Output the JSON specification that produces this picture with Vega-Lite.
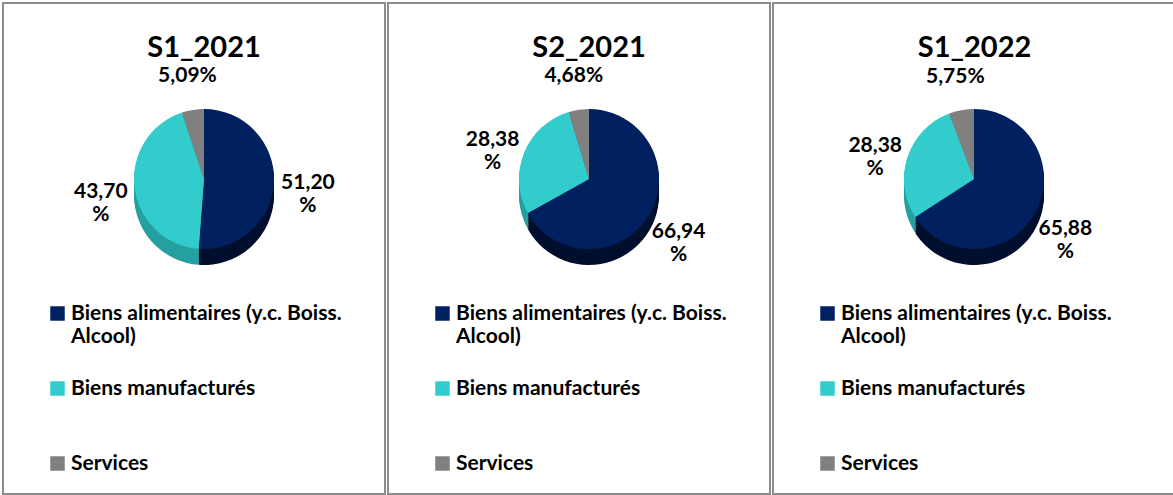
{
  "$schema": "https://vega.github.io/schema/vega-lite/v6.json",
  "padding": {"left": 2, "top": 2, "right": 0, "bottom": 0},
  "background": "white",
  "spacing": 1,
  "datasets": {
    "parts": [
      {"periode": "S1_2021", "categorie": "Biens alimentaires (y.c. Boiss. Alcool)", "valeur": 51.20, "etiquette": "51,20\n%"},
      {"periode": "S1_2021", "categorie": "Biens manufacturés", "valeur": 43.70, "etiquette": "43,70\n%"},
      {"periode": "S1_2021", "categorie": "Services", "valeur": 5.09, "etiquette": "5,09%"},
      {"periode": "S2_2021", "categorie": "Biens alimentaires (y.c. Boiss. Alcool)", "valeur": 66.94, "etiquette": "66,94\n%"},
      {"periode": "S2_2021", "categorie": "Biens manufacturés", "valeur": 28.38, "etiquette": "28,38\n%"},
      {"periode": "S2_2021", "categorie": "Services", "valeur": 4.68, "etiquette": "4,68%"},
      {"periode": "S1_2022", "categorie": "Biens alimentaires (y.c. Boiss. Alcool)", "valeur": 65.88, "etiquette": "65,88\n%"},
      {"periode": "S1_2022", "categorie": "Biens manufacturés", "valeur": 28.38, "etiquette": "28,38\n%"},
      {"periode": "S1_2022", "categorie": "Services", "valeur": 5.75, "etiquette": "5,75%"}
    ]
  },
  "resolve": {"scale": {"color": "independent", "theta": "independent"}, "legend": {"color": "independent"}},
  "hconcat": [
    {
      "width": 382, "height": 491,
      "view": {"stroke": "#8c8c8c", "strokeWidth": 2},
      "title": {"text": "S1_2021", "offset": -60, "dx": 10},
      "data": {"name": "parts"},
      "transform": [{"filter": "datum.periode == 'S1_2021'"}],
      "encoding": {
        "theta": {"field": "valeur", "type": "quantitative", "stack": true},
        "order": {"field": "categorie", "sort": "ascending"},
        "color": {"field": "categorie", "type": "nominal",
          "scale": {"domain": ["Biens alimentaires (y.c. Boiss. Alcool)", "Biens manufacturés", "Services"], "range": ["#002060", "#33CCCC", "#808080"]},
          "legend": {"title": null, "labelExpr": "datum.label == 'Biens alimentaires (y.c. Boiss. Alcool)' ? ['Biens alimentaires (y.c. Boiss.', 'Alcool)'] : datum.label"}}
      },
      "layer": [
        {"mark": {"type": "arc", "radius": 70, "x": 201, "y": 176, "yOffset": 16}, "encoding": {"fill": {"condition": [{"test": "datum.categorie == 'Services'", "value": "#5c5c5c"}, {"test": "datum.categorie == 'Biens manufacturés'", "value": "#24a0a0"}], "value": "#000f2e"}}},
        {"mark": {"type": "arc", "radius": 70, "x": 201, "y": 176, "yOffset": 14}, "encoding": {"fill": {"condition": [{"test": "datum.categorie == 'Services'", "value": "#5c5c5c"}, {"test": "datum.categorie == 'Biens manufacturés'", "value": "#24a0a0"}], "value": "#000f2e"}}},
        {"mark": {"type": "arc", "radius": 70, "x": 201, "y": 176, "yOffset": 12}, "encoding": {"fill": {"condition": [{"test": "datum.categorie == 'Services'", "value": "#5c5c5c"}, {"test": "datum.categorie == 'Biens manufacturés'", "value": "#24a0a0"}], "value": "#000f2e"}}},
        {"mark": {"type": "arc", "radius": 70, "x": 201, "y": 176, "yOffset": 10}, "encoding": {"fill": {"condition": [{"test": "datum.categorie == 'Services'", "value": "#5c5c5c"}, {"test": "datum.categorie == 'Biens manufacturés'", "value": "#24a0a0"}], "value": "#000f2e"}}},
        {"mark": {"type": "arc", "radius": 70, "x": 201, "y": 176, "yOffset": 8}, "encoding": {"fill": {"condition": [{"test": "datum.categorie == 'Services'", "value": "#5c5c5c"}, {"test": "datum.categorie == 'Biens manufacturés'", "value": "#24a0a0"}], "value": "#000f2e"}}},
        {"mark": {"type": "arc", "radius": 70, "x": 201, "y": 176, "yOffset": 6}, "encoding": {"fill": {"condition": [{"test": "datum.categorie == 'Services'", "value": "#5c5c5c"}, {"test": "datum.categorie == 'Biens manufacturés'", "value": "#24a0a0"}], "value": "#000f2e"}}},
        {"mark": {"type": "arc", "radius": 70, "x": 201, "y": 176, "yOffset": 4}, "encoding": {"fill": {"condition": [{"test": "datum.categorie == 'Services'", "value": "#5c5c5c"}, {"test": "datum.categorie == 'Biens manufacturés'", "value": "#24a0a0"}], "value": "#000f2e"}}},
        {"mark": {"type": "arc", "radius": 70, "x": 201, "y": 176, "yOffset": 2}, "encoding": {"fill": {"condition": [{"test": "datum.categorie == 'Services'", "value": "#5c5c5c"}, {"test": "datum.categorie == 'Biens manufacturés'", "value": "#24a0a0"}], "value": "#000f2e"}}},
        {"mark": {"type": "arc", "radius": 70, "x": 201, "y": 176}},
        {"mark": {"type": "text", "radius": 104, "x": 201, "y": 176, "lineBreak": "\n", "font": "Lato", "fontWeight": "bold", "fontSize": 21}, "encoding": {"text": {"field": "etiquette"}, "fill": {"value": "#000000"}}}
      ]
    },
    {
      "width": 382, "height": 491,
      "view": {"stroke": "#8c8c8c", "strokeWidth": 2},
      "title": {"text": "S2_2021", "offset": -60, "dx": 10},
      "data": {"name": "parts"},
      "transform": [{"filter": "datum.periode == 'S2_2021'"}],
      "encoding": {
        "theta": {"field": "valeur", "type": "quantitative", "stack": true},
        "order": {"field": "categorie", "sort": "ascending"},
        "color": {"field": "categorie", "type": "nominal",
          "scale": {"domain": ["Biens alimentaires (y.c. Boiss. Alcool)", "Biens manufacturés", "Services"], "range": ["#002060", "#33CCCC", "#808080"]},
          "legend": {"title": null, "labelExpr": "datum.label == 'Biens alimentaires (y.c. Boiss. Alcool)' ? ['Biens alimentaires (y.c. Boiss.', 'Alcool)'] : datum.label"}}
      },
      "layer": [
        {"mark": {"type": "arc", "radius": 70, "x": 201, "y": 176, "yOffset": 16}, "encoding": {"fill": {"condition": [{"test": "datum.categorie == 'Services'", "value": "#5c5c5c"}, {"test": "datum.categorie == 'Biens manufacturés'", "value": "#24a0a0"}], "value": "#000f2e"}}},
        {"mark": {"type": "arc", "radius": 70, "x": 201, "y": 176, "yOffset": 14}, "encoding": {"fill": {"condition": [{"test": "datum.categorie == 'Services'", "value": "#5c5c5c"}, {"test": "datum.categorie == 'Biens manufacturés'", "value": "#24a0a0"}], "value": "#000f2e"}}},
        {"mark": {"type": "arc", "radius": 70, "x": 201, "y": 176, "yOffset": 12}, "encoding": {"fill": {"condition": [{"test": "datum.categorie == 'Services'", "value": "#5c5c5c"}, {"test": "datum.categorie == 'Biens manufacturés'", "value": "#24a0a0"}], "value": "#000f2e"}}},
        {"mark": {"type": "arc", "radius": 70, "x": 201, "y": 176, "yOffset": 10}, "encoding": {"fill": {"condition": [{"test": "datum.categorie == 'Services'", "value": "#5c5c5c"}, {"test": "datum.categorie == 'Biens manufacturés'", "value": "#24a0a0"}], "value": "#000f2e"}}},
        {"mark": {"type": "arc", "radius": 70, "x": 201, "y": 176, "yOffset": 8}, "encoding": {"fill": {"condition": [{"test": "datum.categorie == 'Services'", "value": "#5c5c5c"}, {"test": "datum.categorie == 'Biens manufacturés'", "value": "#24a0a0"}], "value": "#000f2e"}}},
        {"mark": {"type": "arc", "radius": 70, "x": 201, "y": 176, "yOffset": 6}, "encoding": {"fill": {"condition": [{"test": "datum.categorie == 'Services'", "value": "#5c5c5c"}, {"test": "datum.categorie == 'Biens manufacturés'", "value": "#24a0a0"}], "value": "#000f2e"}}},
        {"mark": {"type": "arc", "radius": 70, "x": 201, "y": 176, "yOffset": 4}, "encoding": {"fill": {"condition": [{"test": "datum.categorie == 'Services'", "value": "#5c5c5c"}, {"test": "datum.categorie == 'Biens manufacturés'", "value": "#24a0a0"}], "value": "#000f2e"}}},
        {"mark": {"type": "arc", "radius": 70, "x": 201, "y": 176, "yOffset": 2}, "encoding": {"fill": {"condition": [{"test": "datum.categorie == 'Services'", "value": "#5c5c5c"}, {"test": "datum.categorie == 'Biens manufacturés'", "value": "#24a0a0"}], "value": "#000f2e"}}},
        {"mark": {"type": "arc", "radius": 70, "x": 201, "y": 176}},
        {"mark": {"type": "text", "radius": 104, "x": 201, "y": 176, "lineBreak": "\n", "font": "Lato", "fontWeight": "bold", "fontSize": 21}, "encoding": {"text": {"field": "etiquette"}, "fill": {"value": "#000000"}}}
      ]
    },
    {
      "width": 403, "height": 491,
      "view": {"stroke": "#8c8c8c", "strokeWidth": 2},
      "title": {"text": "S1_2022", "offset": -60, "dx": 0},
      "data": {"name": "parts"},
      "transform": [{"filter": "datum.periode == 'S1_2022'"}],
      "encoding": {
        "theta": {"field": "valeur", "type": "quantitative", "stack": true},
        "order": {"field": "categorie", "sort": "ascending"},
        "color": {"field": "categorie", "type": "nominal",
          "scale": {"domain": ["Biens alimentaires (y.c. Boiss. Alcool)", "Biens manufacturés", "Services"], "range": ["#002060", "#33CCCC", "#808080"]},
          "legend": {"title": null, "labelExpr": "datum.label == 'Biens alimentaires (y.c. Boiss. Alcool)' ? ['Biens alimentaires (y.c. Boiss.', 'Alcool)'] : datum.label"}}
      },
      "layer": [
        {"mark": {"type": "arc", "radius": 70, "x": 201, "y": 176, "yOffset": 16}, "encoding": {"fill": {"condition": [{"test": "datum.categorie == 'Services'", "value": "#5c5c5c"}, {"test": "datum.categorie == 'Biens manufacturés'", "value": "#24a0a0"}], "value": "#000f2e"}}},
        {"mark": {"type": "arc", "radius": 70, "x": 201, "y": 176, "yOffset": 14}, "encoding": {"fill": {"condition": [{"test": "datum.categorie == 'Services'", "value": "#5c5c5c"}, {"test": "datum.categorie == 'Biens manufacturés'", "value": "#24a0a0"}], "value": "#000f2e"}}},
        {"mark": {"type": "arc", "radius": 70, "x": 201, "y": 176, "yOffset": 12}, "encoding": {"fill": {"condition": [{"test": "datum.categorie == 'Services'", "value": "#5c5c5c"}, {"test": "datum.categorie == 'Biens manufacturés'", "value": "#24a0a0"}], "value": "#000f2e"}}},
        {"mark": {"type": "arc", "radius": 70, "x": 201, "y": 176, "yOffset": 10}, "encoding": {"fill": {"condition": [{"test": "datum.categorie == 'Services'", "value": "#5c5c5c"}, {"test": "datum.categorie == 'Biens manufacturés'", "value": "#24a0a0"}], "value": "#000f2e"}}},
        {"mark": {"type": "arc", "radius": 70, "x": 201, "y": 176, "yOffset": 8}, "encoding": {"fill": {"condition": [{"test": "datum.categorie == 'Services'", "value": "#5c5c5c"}, {"test": "datum.categorie == 'Biens manufacturés'", "value": "#24a0a0"}], "value": "#000f2e"}}},
        {"mark": {"type": "arc", "radius": 70, "x": 201, "y": 176, "yOffset": 6}, "encoding": {"fill": {"condition": [{"test": "datum.categorie == 'Services'", "value": "#5c5c5c"}, {"test": "datum.categorie == 'Biens manufacturés'", "value": "#24a0a0"}], "value": "#000f2e"}}},
        {"mark": {"type": "arc", "radius": 70, "x": 201, "y": 176, "yOffset": 4}, "encoding": {"fill": {"condition": [{"test": "datum.categorie == 'Services'", "value": "#5c5c5c"}, {"test": "datum.categorie == 'Biens manufacturés'", "value": "#24a0a0"}], "value": "#000f2e"}}},
        {"mark": {"type": "arc", "radius": 70, "x": 201, "y": 176, "yOffset": 2}, "encoding": {"fill": {"condition": [{"test": "datum.categorie == 'Services'", "value": "#5c5c5c"}, {"test": "datum.categorie == 'Biens manufacturés'", "value": "#24a0a0"}], "value": "#000f2e"}}},
        {"mark": {"type": "arc", "radius": 70, "x": 201, "y": 176}},
        {"mark": {"type": "text", "radius": 104, "x": 201, "y": 176, "lineBreak": "\n", "font": "Lato", "fontWeight": "bold", "fontSize": 21}, "encoding": {"text": {"field": "etiquette"}, "fill": {"value": "#000000"}}}
      ]
    }
  ],
  "config": {
    "view": {"stroke": "#8c8c8c", "strokeWidth": 2},
    "title": {"font": "Lato", "fontWeight": "bold", "fontSize": 29, "color": "#000000", "anchor": "middle", "frame": "group"},
    "legend": {
      "orient": "none", "legendX": 44, "legendY": 300, "direction": "vertical",
      "symbolType": "square", "symbolSize": 210, "symbolStrokeWidth": 0, "symbolOpacity": 1,
      "labelFont": "Lato", "labelFontWeight": "bold", "labelFontSize": 21, "labelColor": "#000000",
      "labelLimit": 400, "labelOffset": 3, "rowPadding": 30, "gridAlign": "all"
    }
  }
}
